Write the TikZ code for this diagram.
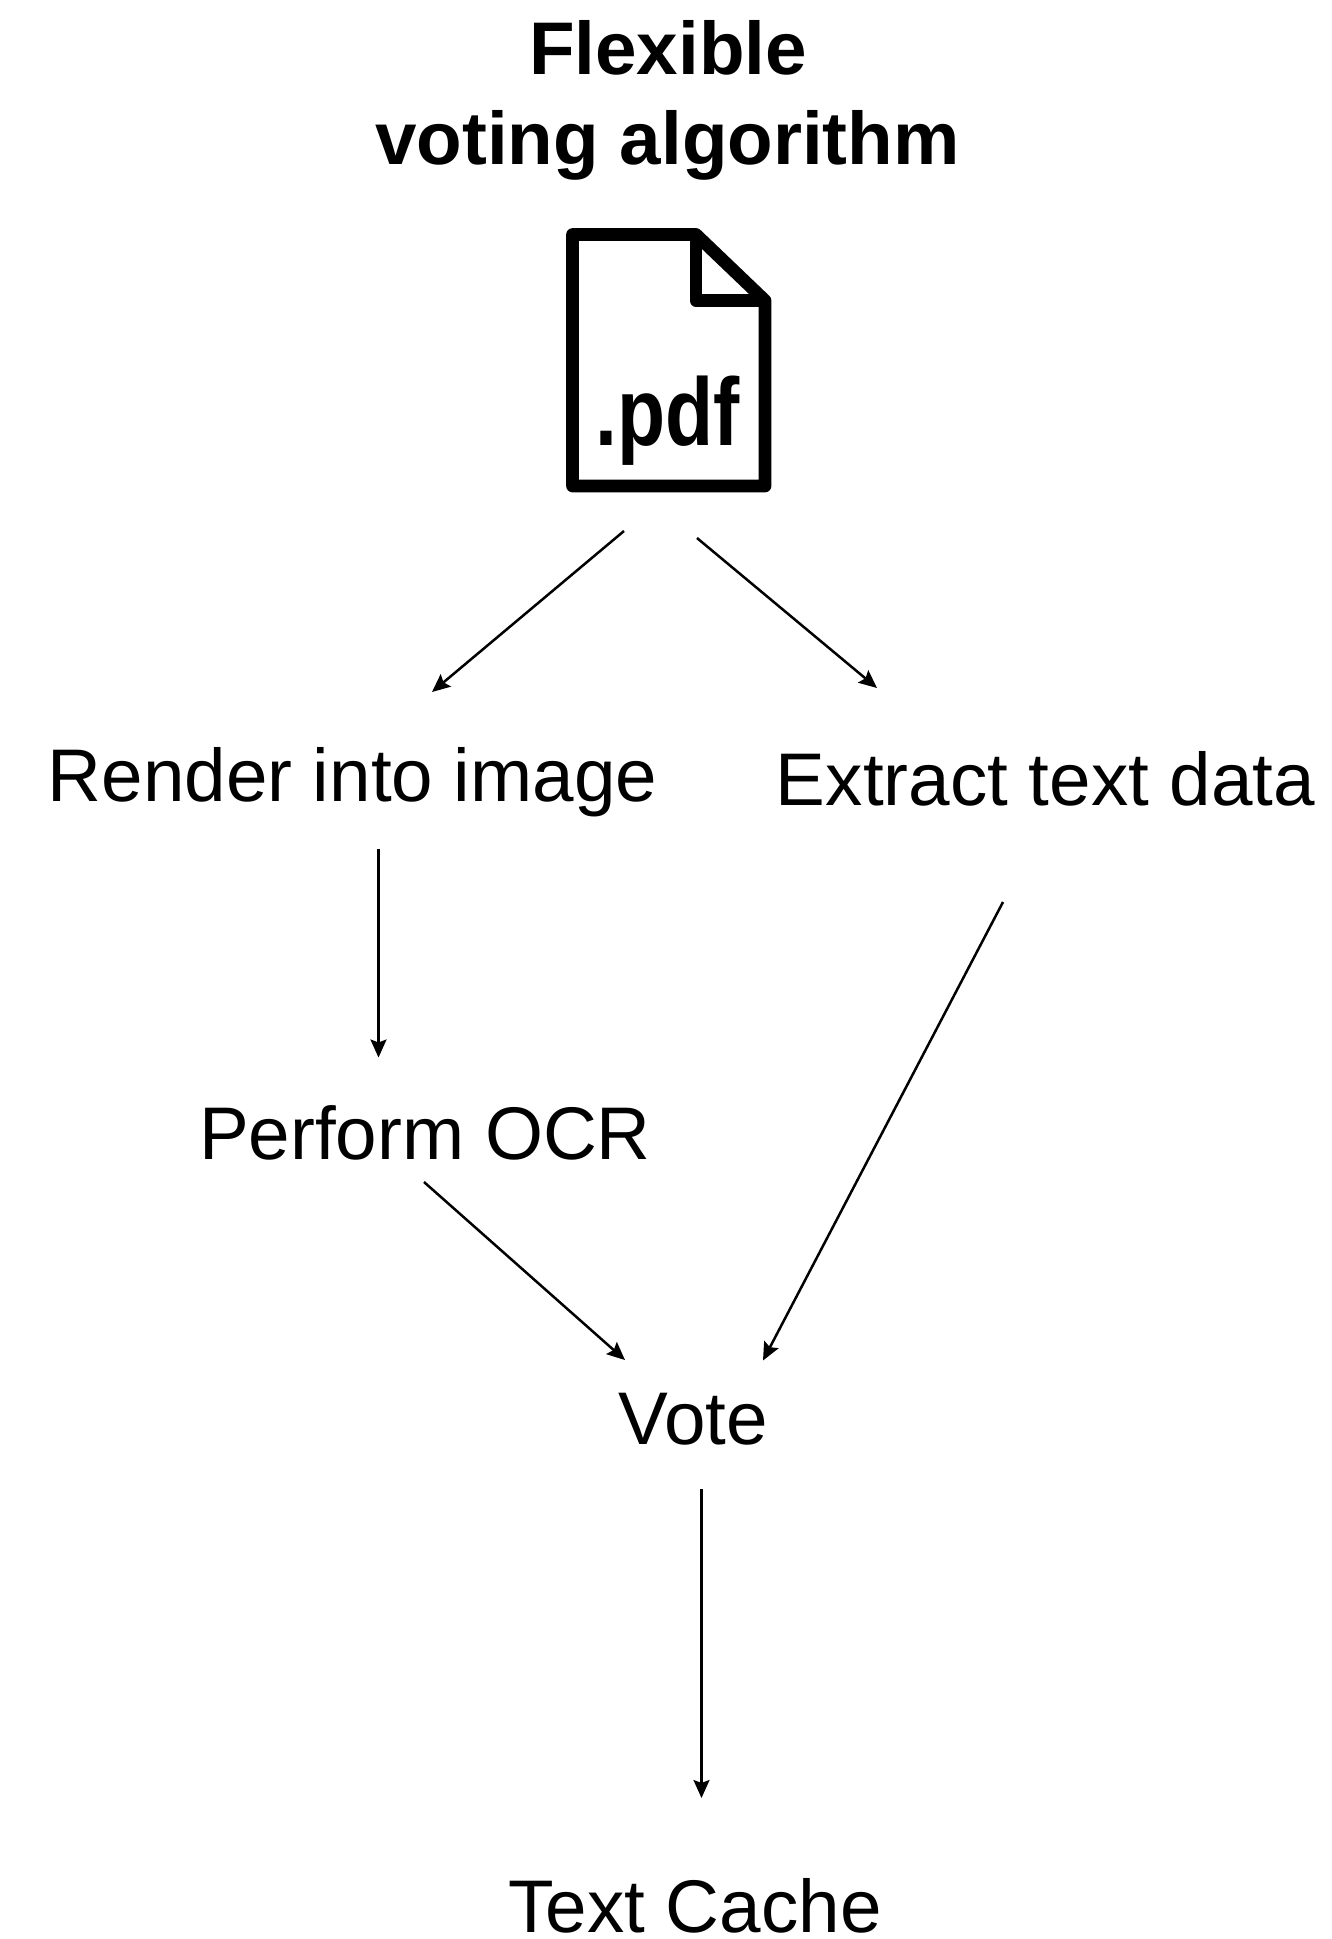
\documentclass[tikz,border=0pt]{standalone}
\usepackage{fontspec}
\usepackage{graphicx}
\setmainfont{Liberation Sans}
\usetikzlibrary{arrows.meta}
\tikzset{
  lbl/.style={anchor=base,inner sep=0pt,font=\fontsize{74.6}{74.6}\selectfont,text=black},
  ttl/.style={anchor=base,inner sep=0pt,font=\fontsize{74.6}{74.6}\selectfont\bfseries,text=black},
  arr/.style={draw=black,line width=2.5pt,-{Stealth[length=18pt,width=16pt,inset=3pt]}},
  icon/.style={draw=black,line width=12.7pt,line join=round}
}
\begin{document}
\begin{tikzpicture}[x=1pt,y=-1pt]
\useasboundingbox (0,0) rectangle (1332,1939);
\node[ttl] (t1) at (668,74) {Flexible};
\node[ttl] (t2) at (667.5,164) {voting algorithm};
\draw[icon] (572.5,234.5) -- (696,234.5) -- (765,300.5) -- (765,486) -- (572.5,486) -- cycle;
\draw[icon] (696,234.5) -- (696,300.5) -- (765,300.5);
\node[anchor=base,inner sep=0pt] (pdf) at (667.5,445) {\scalebox{0.82}[1]{\fontsize{96}{96}\selectfont\bfseries .pdf}};
\node[lbl] (render) at (352.5,801) {Render into image};
\node[lbl] (extract) at (1045.5,805) {Extract text data};
\node[lbl] (ocr) at (425,1159) {Perform OCR};
\node[lbl] (vote) at (693.5,1444) {Vote};
\node[lbl] (cache) at (695,1932) {Text Cache};
\draw[arr] ([shift={(-43.5,86)}]pdf.base) -- ([shift={(79.5,-109)}]render.base);
\draw[arr] ([shift={(29.5,93)}]pdf.base) -- ([shift={(-168.5,-117)}]extract.base);
\draw[arr] ([shift={(26,47.5)}]render.base) -- ([shift={(-46.5,-101.5)}]ocr.base);
\draw[arr] ([shift={(-42.5,97)}]extract.base) -- ([shift={(69.5,-83.5)}]vote.base);
\draw[arr] ([shift={(-1,23)}]ocr.base) -- ([shift={(-68.5,-84)}]vote.base);
\draw[arr] ([shift={(8,45)}]vote.base) -- ([shift={(6.5,-134)}]cache.base);
\end{tikzpicture}
\end{document}
